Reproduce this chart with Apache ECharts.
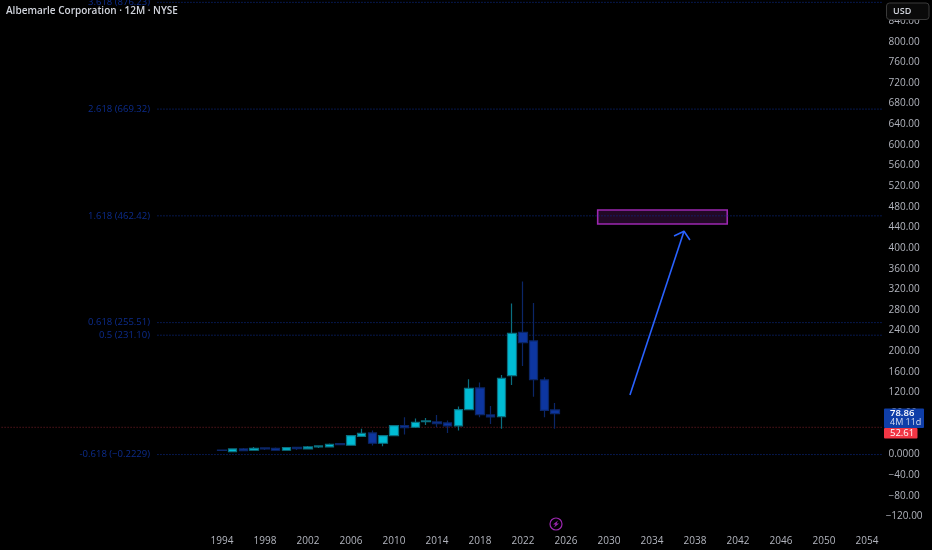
<!DOCTYPE html>
<html>
<head>
<meta charset="utf-8">
<style>html,body{margin:0;padding:0;background:#000}#c{width:932px;height:550px}</style>
<script src="https://cdn.jsdelivr.net/npm/echarts@6/dist/echarts.min.js"></script>
</head>
<body>
<div id="c"></div>
<script>
const firstYear = 1974, lastYear = 2055;
const years = [];
for (let y = firstYear; y <= lastYear; y++) years.push(String(y));
const tickYears = ['1994','1998','2002','2006','2010','2014','2018','2022','2026','2030','2034','2038','2042','2046','2050','2054'];
const candleYears = ['1994','1995','1996','1997','1998','1999','2000','2001','2002','2003','2004','2005','2006','2007','2008','2009','2010','2011','2012','2013','2014','2015','2016','2017','2018','2019','2020','2021','2022','2023','2024','2025'];
const opens  = [8.5,5.5,10.7,8.1,12.6,12,8.1,13.9,10.7,14.6,14.6,21,17.8,35.2,41.7,21.7,36.5,55.9,52.7,63.7,63,61.1,55.3,86.9,128.9,76.6,73.4,152.8,236.8,220,144.4,86.3];
const closes = [7.8,10.7,7.5,12,10.7,8.1,13.3,11.3,14.6,16.5,19.7,19.1,36.5,41,21.7,36.5,55.9,52,62.4,65,59.8,55.3,86.9,128.3,77.2,72.7,147.7,234.9,216.8,145,85.6,78.86];
const lows   = [7.5,5,6.8,7.8,8.8,7.8,7.8,8.8,10.5,12.6,14.4,17.8,17.6,34,17.2,15.9,36,38.5,51.4,57.2,52.7,41.7,46.2,86.3,72,59.1,50,134.7,171.6,112,72,50];
const highs  = [9,11,12.6,14.6,13,13.3,13.5,14.2,16.5,16.8,21,21.3,37.8,50,46.2,37,57.2,72,69.5,70.8,76.6,65.6,92.7,145.7,139.2,94,154.1,292.4,335,293.6,149.6,99.8];
const fibValues = [876.23,669.32,462.42,255.51,231.10,-0.2229];
const fibLabels = ['3.618 (876.23)','2.618 (669.32)','1.618 (462.42)','0.618 (255.51)','0.5 (231.10)','-0.618 (\u22120.2229)'];
const lastLow = 52.61;
const boxX = [2028.95,2041];
const boxY = [473.8,446.7];
const arrowShaft = [[2031.95,115.3],[2036.98,432.6]];
const arrowHead = [[2036.05,423.4],[2036.98,432.6],[2037.53,415.7]];
const priceLabel = '78.86', timeLabel = '4M 11d', lowLabel = '52.61';

const font = '"Open Sans","Noto Sans",sans-serif';
const chart = echarts.init(document.getElementById('c'), null, {renderer:'canvas'});
const ohlc = years.map(y => {
  const i = candleYears.indexOf(y);
  return i < 0 ? ['-','-','-','-'] : [opens[i], closes[i], lows[i], highs[i]];
});
const fibSeries = fibValues.map((v,i) => ({
  type:'line', xAxisIndex:1, yAxisIndex:0, silent:true, z:2,
  symbol:'circle', symbolSize:1, itemStyle:{opacity:0},
  lineStyle:{color:'#0d2f96', width:1, type:[1,2]},
  data:[
    {value:[1988,v], label:{show:true, position:'left', distance:7, padding:[2,0,0,0], formatter:fibLabels[i], color:'#0c2c8c', fontSize:9.5, fontFamily:font, opacity:1}},
    {value:[2055.4,v]}
  ]
}));
chart.setOption({
  animation:false,
  backgroundColor:'#000',
  title:{text:'Albemarle Corporation \u00b7 12M \u00b7 NYSE', left:6, top:6, padding:0, textStyle:{color:'#d1d4dc', fontSize:10, fontWeight:600, fontFamily:font}},
  grid:{left:1.6, top:0.4, width:881.5, height:536.6, containLabel:false},
  xAxis:[
    {type:'category', data:years, boundaryGap:true,
     axisLine:{show:false}, axisTick:{show:false}, splitLine:{show:false},
     axisLabel:{interval:(i,v)=>tickYears.includes(v), margin:4, verticalAlign:'middle', color:'#b2b5be', fontSize:10, fontFamily:font, hideOverlap:false}},
    {type:'value', min:firstYear-0.5, max:lastYear+0.5, show:false}
  ],
  yAxis:[{type:'value', position:'right', min:-160, max:880, interval:40,
    axisLine:{show:false}, axisTick:{show:false}, splitLine:{show:false},
    axisLabel:{margin:21, align:'center', padding:[4,0,0,0], color:'#b2b5be', fontSize:10, fontFamily:font,
      formatter:v => {
        if (v===880||v===-160) return '';
        if (v===0) return '0.0000';
        return (v<0?'\u2212':'')+Math.abs(v).toFixed(2);
      }}}],
  series:[
    ...fibSeries,
    {type:'line', xAxisIndex:1, silent:true, symbol:'none', z:2,
     lineStyle:{color:'#7a1f28', width:1, type:[1,2]},
     data:[[firstYear-0.5,lastLow],[2055.4,lastLow]]},
    {type:'candlestick', xAxisIndex:0, yAxisIndex:0, barWidth:9, z:3, silent:true, data:ohlc,
     itemStyle:{color:'#00bcd4', color0:'#0d36a0', borderColor:'#0a6f80', borderColor0:'#0b2668', borderWidth:1.2}},
    {type:'line', xAxisIndex:1, silent:true, symbol:'none', z:4,
     lineStyle:{color:'#2962ff', width:1.6}, data:arrowShaft,
     markArea:{silent:true, z:1, itemStyle:{color:'#220926', opacity:1, borderColor:'#9c27b0', borderWidth:1.6},
       data:[[{coord:[boxX[0],boxY[0]]},{coord:[boxX[1],boxY[1]]}]]}},
    {type:'line', xAxisIndex:1, silent:true, symbol:'none', z:4,
     lineStyle:{color:'#2962ff', width:1.6}, data:arrowHead}
  ],
  graphic:[
    {type:'rect', z:10, shape:{x:886.5,y:3,width:42.5,height:16.5,r:3}, style:{fill:'#0a0a0a',stroke:'#3a3a3a',lineWidth:1}},
    {type:'text', z:11, x:893, y:6.5, style:{text:'USD',fill:'#d1d4dc',font:'600 9px '+font}},
    {type:'rect', z:10, shape:{x:884,y:408.5,width:40,height:19.5,r:1}, style:{fill:'#0f3ea8'}},
    {type:'text', z:11, x:890,y:408.5, style:{text:priceLabel,fill:'#fff',font:'600 9.5px '+font}},
    {type:'text', z:11, x:890,y:417.5, style:{text:timeLabel,fill:'#d6dcf0',font:'9px '+font}},
    {type:'rect', z:10, shape:{x:884,y:428,width:33.5,height:10.5,r:1}, style:{fill:'#f23645'}},
    {type:'text', z:11, x:890,y:428.5, style:{text:lowLabel,fill:'#fff',font:'9.5px '+font}},
    {type:'circle', z:10, shape:{cx:556,cy:524,r:6}, style:{fill:'#000',stroke:'#9c27b0',lineWidth:1.2}},
    {type:'polygon', z:11, shape:{points:[[558,520.5],[553,524.5],[555.5,524.5],[554,527.5],[559,523.5],[556.5,523.5]]}, style:{fill:'#9c27b0'}}
  ]
});
</script>
</body>
</html>
